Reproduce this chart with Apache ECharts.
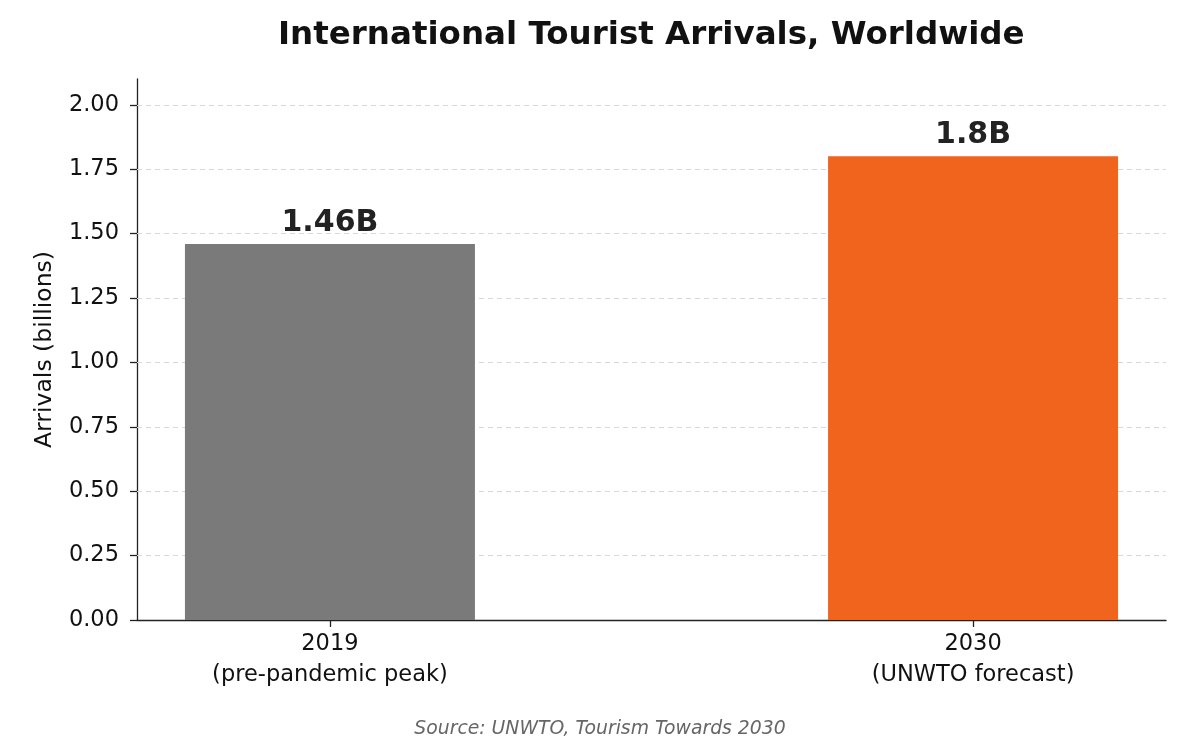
<!DOCTYPE html>
<html><head><meta charset="utf-8">
<script src="https://cdn.jsdelivr.net/npm/echarts@6/dist/echarts.min.js"></script>
<style>html,body{margin:0;padding:0;background:#fff}#c{width:1200px;height:754px}</style>
</head><body><div id="c"></div>
<script>
const categories = ["2019\n(pre-pandemic peak)", "2030\n(UNWTO forecast)"];
const arrivals = [1.46, 1.8];
const barLabels = ["1.46B", "1.8B"];
const barColors = ["#7a7a7a", "#f1641e"];
const yTicks = [0, 0.25, 0.5, 0.75, 1.0, 1.25, 1.5, 1.75, 2.0];
const xPositions = [0, 1];

const font = "DejaVu Sans";
const chart = echarts.init(document.getElementById('c'), null, {renderer: 'canvas'});
chart.setOption({
  animation: false,
  backgroundColor: '#fff',
  title: [{
    text: 'International Tourist Arrivals, Worldwide',
    left: 273, top: 14,
    textStyle: {fontFamily: font, fontWeight: 'bold', fontSize: 32.5, color: '#111'}
  }, {
    text: 'Source: UNWTO, Tourism Towards 2030',
    left: 'center', top: 715,
    textStyle: {fontFamily: font, fontStyle: 'italic', fontWeight: 'normal', fontSize: 18.8, color: '#666'}
  }],
  grid: {left: 137, right: 34, top: 79, bottom: 134},
  xAxis: {
    type: 'value', min: -0.3, max: 1.3,
    axisLine: {show: true, onZero: false, lineStyle: {color: '#222', width: 1.3}},
    axisTick: {show: true, customValues: xPositions, length: 7, lineStyle: {color: '#222', width: 1.3}},
    axisLabel: {
      customValues: xPositions, margin: 9, fontFamily: font, fontSize: 22.5, color: '#111', lineHeight: 31,
      formatter: v => categories[Math.round(v)]
    },
    splitLine: {show: false}
  },
  yAxis: {
    type: 'value', min: 0, max: 2.1,
    name: 'Arrivals (billions)', nameLocation: 'middle', nameGap: 80,
    nameTextStyle: {fontFamily: font, fontSize: 23.5, color: '#111'},
    axisLine: {show: true, onZero: false, lineStyle: {color: '#222', width: 1.3}},
    axisTick: {show: true, customValues: yTicks, length: 7, lineStyle: {color: '#222', width: 1.3}},
    axisLabel: {customValues: yTicks, margin: 18, fontFamily: font, fontSize: 22.5, color: '#111',
      formatter: v => v.toFixed(2)},
    splitLine: {show: false}
  },
  series: [{
    type: 'line', data: [], z: 1, silent: true,
    markLine: {
      z: 1, silent: true, symbol: 'none', label: {show: false},
      lineStyle: {type: [5, 4], color: '#d8d8d8', width: 1},
      data: yTicks.filter(v => v > 0).map(v => ({yAxis: v}))
    }
  }, {
    type: 'bar', z: 10, barWidth: 290,
    data: arrivals.map((v, i) => ({value: [xPositions[i], v], itemStyle: {color: barColors[i]}})),
    label: {
      show: true, position: 'top', distance: 6,
      fontFamily: font, fontWeight: 'bold', fontSize: 30, color: '#222',
      formatter: p => barLabels[p.dataIndex]
    }
  }]
});
</script></body></html>
